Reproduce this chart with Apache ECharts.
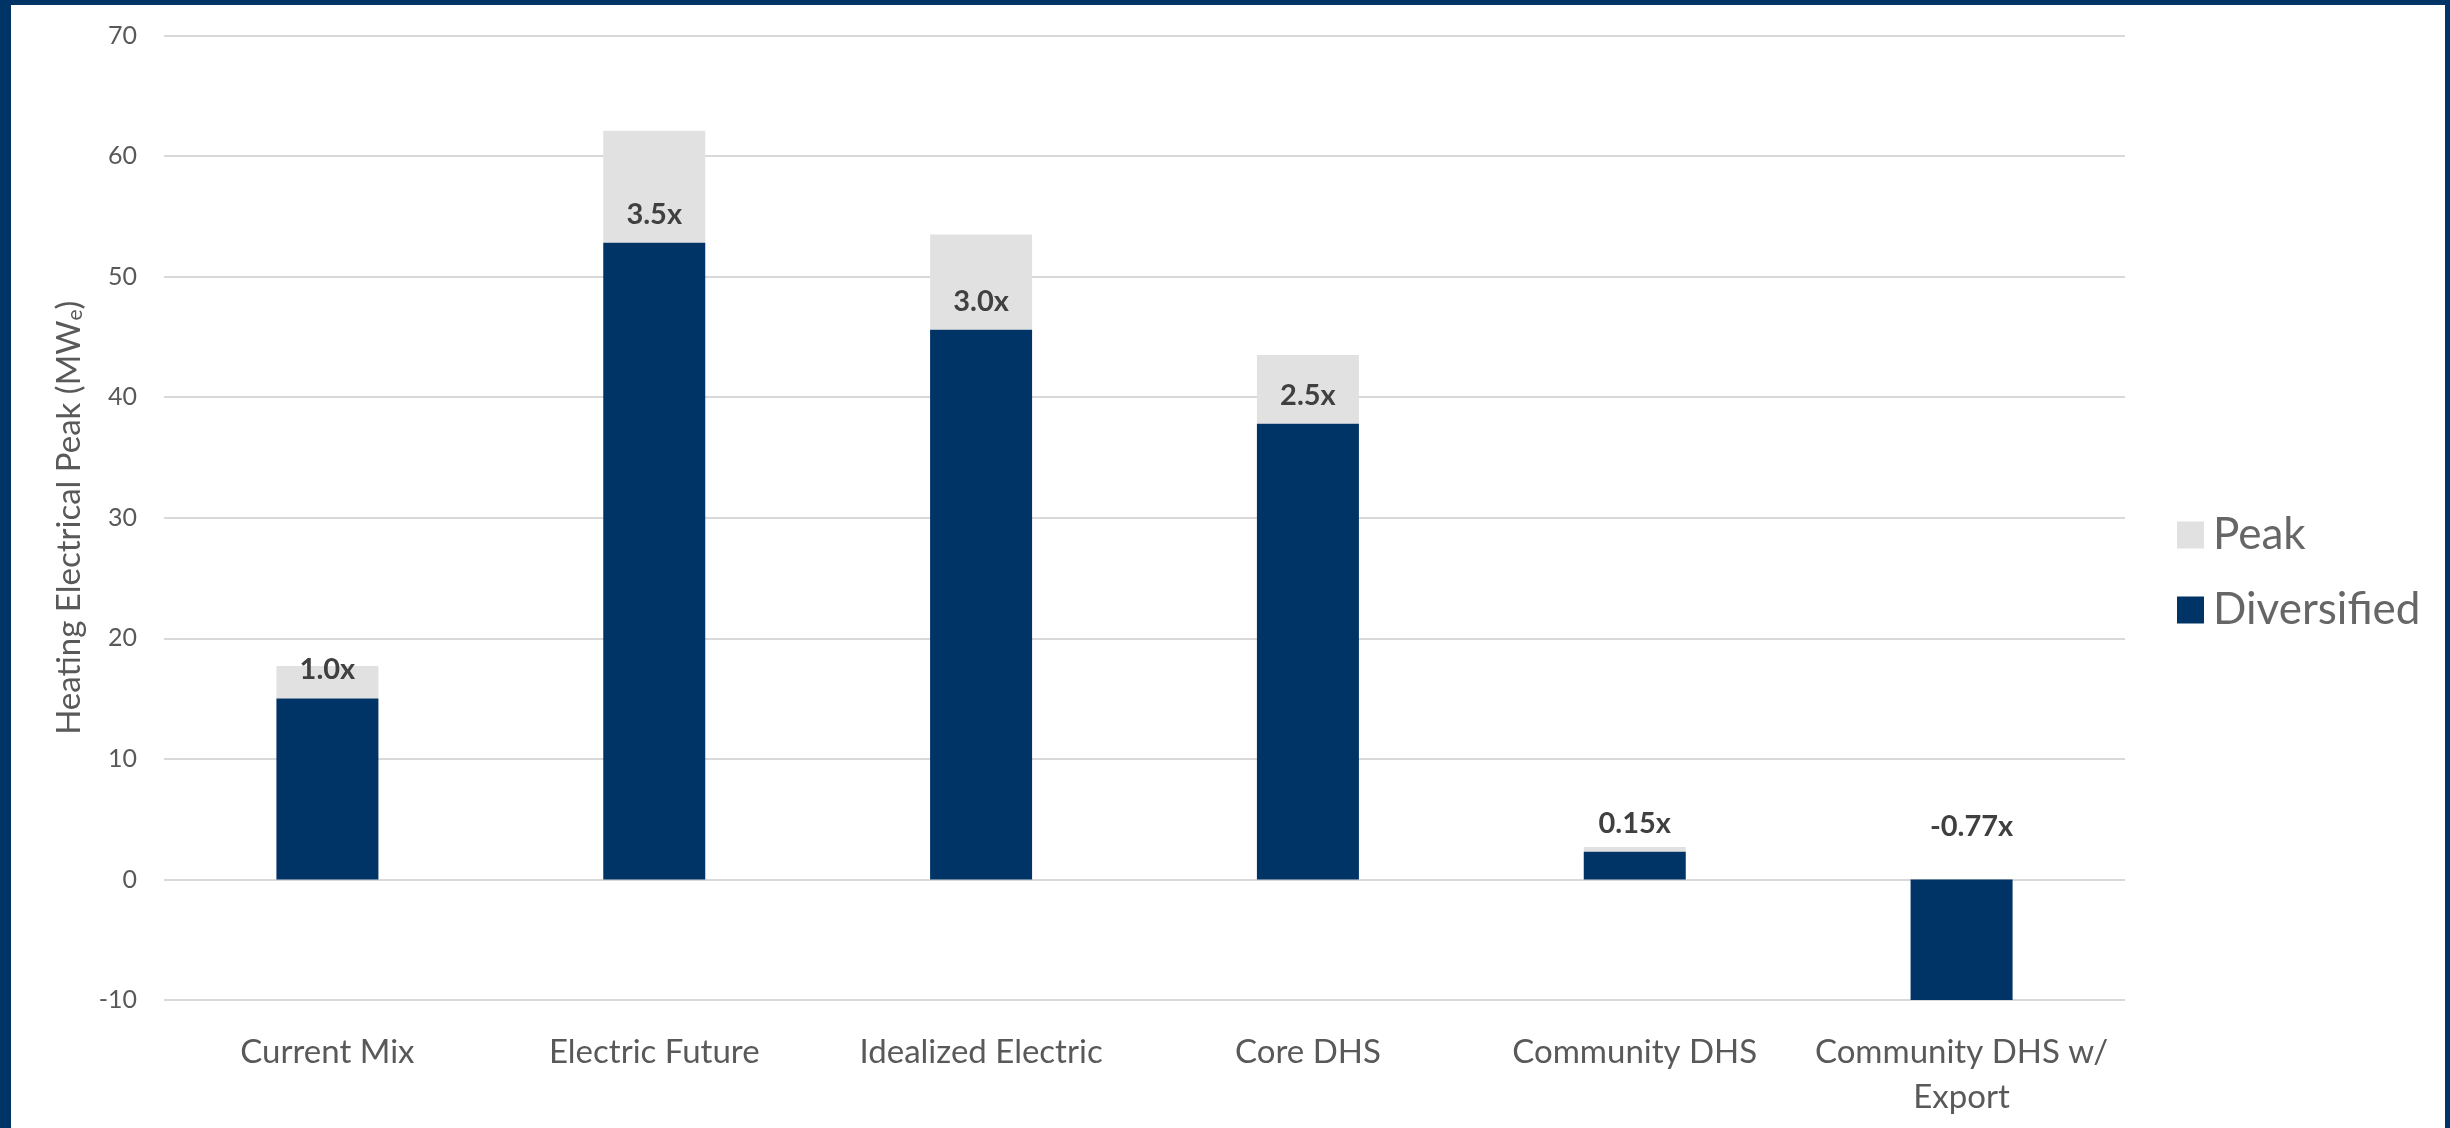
<!DOCTYPE html>
<html>
<head>
<meta charset="utf-8">
<script src="https://cdn.jsdelivr.net/npm/echarts@6/dist/echarts.min.js"></script>
<style>
html,body{margin:0;padding:0;background:#fff;}
#chart{position:absolute;left:0;top:0;width:2450px;height:1128px;}
#frame{position:absolute;left:0;top:0;width:2434px;height:1123px;border-left:11px solid #003366;border-top:5px solid #003366;border-right:5px solid #003366;pointer-events:none;}
</style>
</head>
<body>
<div id="chart"></div>
<div id="frame"></div>
<script>
const categories = ['Current Mix', 'Electric Future', 'Idealized Electric', 'Core DHS', 'Community DHS', 'Community DHS w/\nExport'];
const diversified = [15.0, 52.8, 45.6, 37.8, 2.3, -10.0];
const peakTotal = [17.7, 62.1, 53.5, 43.5, 2.7, -10.0];
const ratioLabels = ['1.0x', '3.5x', '3.0x', '2.5x', '0.15x', '-0.77x'];
const yTicks = [-10, 0, 10, 20, 30, 40, 50, 60, 70];

const FONT = 'Lato, "Open Sans", sans-serif';
const DARK = '#003366';
const GREY = '#E1E1E1';

const peakExtra = peakTotal.map((p, i) => Math.max(0, +(p - diversified[i]).toFixed(2)));

const divData = diversified.map((v, i) => ({
  value: v,
  label: {
    formatter: ratioLabels[i],
    distance: v < 0 ? 38 : 14,
    offset: v < 0 ? [10, 0] : [0, 0]
  }
}));

const chart = echarts.init(document.getElementById('chart'), null, {renderer: 'canvas'});
chart.setOption({
  backgroundColor: '#ffffff',
  animation: false,
  textStyle: {fontFamily: FONT},
  grid: {left: 164, right: 325, top: 35.5, bottom: 128, containLabel: false},
  legend: {
    orient: 'vertical',
    left: 2172,
    top: 508,
    itemWidth: 27,
    itemHeight: 27,
    itemGap: 31,
    icon: 'rect',
    data: ['Peak', 'Diversified'],
    textStyle: {fontFamily: FONT, fontSize: 44, color: '#666666', padding: [0, 0, 0, 4]}
  },
  xAxis: {
    type: 'category',
    data: categories,
    axisLine: {show: false, onZero: false},
    axisTick: {show: false},
    splitLine: {show: false},
    axisLabel: {
      fontFamily: FONT, fontSize: 33, color: '#595959',
      margin: 30, lineHeight: 45, interval: 0
    }
  },
  yAxis: {
    type: 'value',
    min: yTicks[0],
    max: yTicks[yTicks.length - 1],
    interval: 10,
    axisLine: {show: false},
    axisTick: {show: false},
    splitLine: {lineStyle: {color: '#D9D9D9', width: 2}},
    axisLabel: {fontFamily: FONT, fontSize: 25, color: '#595959', margin: 27},
    name: '{a|Heating Electrical Peak (MW}{s|e}{a|)}',
    nameLocation: 'middle',
    nameGap: 78,
    nameRotate: 90,
    nameTextStyle: {
      rich: {
        a: {fontFamily: FONT, fontSize: 33, color: '#595959'},
        s: {fontFamily: FONT, fontSize: 21, color: '#595959', verticalAlign: 'bottom', padding: [12, 0, 0, 0]}
      }
    }
  },
  series: [
    {
      name: 'Diversified',
      type: 'bar',
      stack: 'total',
      barWidth: 102,
      itemStyle: {color: DARK},
      data: divData,
      z: 3,
      label: {
        show: true,
        position: 'top',
        fontFamily: FONT,
        fontSize: 29,
        fontWeight: 'bold',
        color: '#404040'
      }
    },
    {
      name: 'Peak',
      type: 'bar',
      stack: 'total',
      barWidth: 102,
      itemStyle: {color: GREY},
      data: peakExtra,
      z: 2
    }
  ]
});
</script>
</body>
</html>
